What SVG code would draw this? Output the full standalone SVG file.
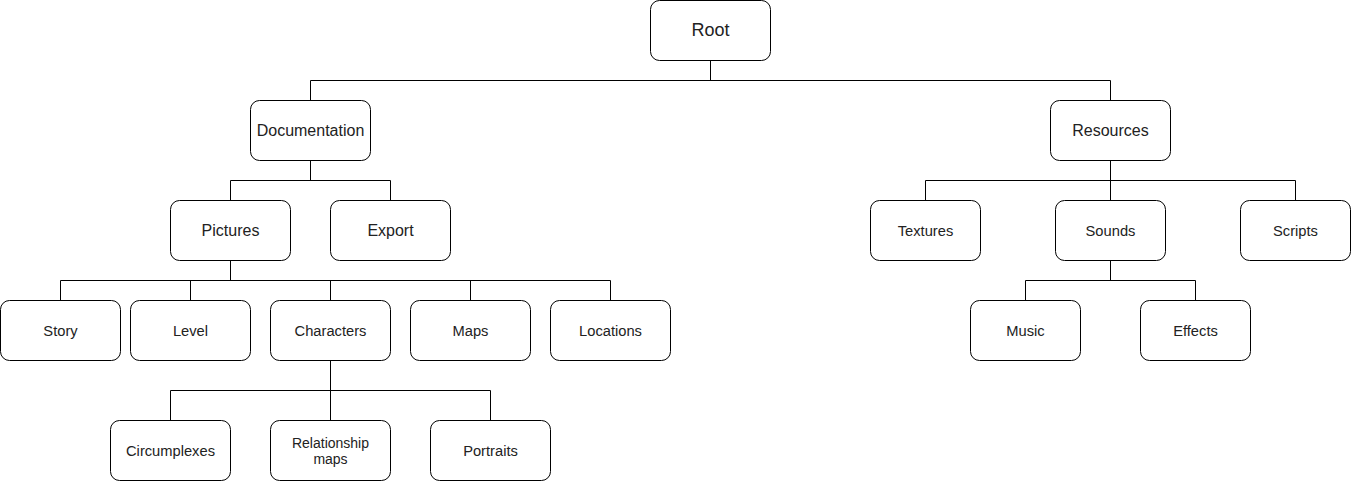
<svg xmlns="http://www.w3.org/2000/svg" width="1351" height="481" viewBox="0 0 1351 481">
<style>
.n rect{fill:#fff;stroke:#000;stroke-width:1}
.n text{font-family:"Liberation Sans",Arial,sans-serif;fill:#222;text-anchor:middle;dominant-baseline:central;font-size:14.7px}
.n .l16{font-size:16px}
.n .l18{font-size:18px}
#connectors path{fill:none;stroke:#000;stroke-width:1}
</style>
<rect width="1351" height="481" fill="#fff"/>
<g id="connectors">
<path d="M710.5 60.5V80.5M310.5 100.5V80.5H1110.5V100.5"/>
<path d="M310.5 160.5V180.5M230.5 200.5V180.5H390.5V200.5"/>
<path d="M230.5 260.5V280.5M60.5 300.5V280.5H610.5V300.5M190.5 280.5V300.5M330.5 280.5V300.5M470.5 280.5V300.5"/>
<path d="M330.5 360.5V420.5M170.5 420.5V390.5H490.5V420.5"/>
<path d="M1110.5 160.5V200.5M925.5 200.5V180.5H1295.5V200.5"/>
<path d="M1110.5 260.5V280.5M1025.5 300.5V280.5H1195.5V300.5"/>
</g>
<g id="root" class="n"><rect x="650.5" y="0.5" width="120" height="60" rx="9"/><text class="l18" x="710.5" y="30">Root</text></g>
<g id="documentation" class="n"><rect x="250.5" y="100.5" width="120" height="60" rx="9"/><text class="l16" x="310.5" y="130.5">Documentation</text></g>
<g id="resources" class="n"><rect x="1050.5" y="100.5" width="120" height="60" rx="9"/><text class="l16" x="1110.5" y="130.5">Resources</text></g>
<g id="pictures" class="n"><rect x="170.5" y="200.5" width="120" height="60" rx="9"/><text class="l16" x="230.5" y="230.5">Pictures</text></g>
<g id="export" class="n"><rect x="330.5" y="200.5" width="120" height="60" rx="9"/><text class="l16" x="390.5" y="230.5">Export</text></g>
<g id="textures" class="n"><rect x="870.5" y="200.5" width="110" height="60" rx="9"/><text x="925.5" y="230.5">Textures</text></g>
<g id="sounds" class="n"><rect x="1055.5" y="200.5" width="110" height="60" rx="9"/><text x="1110.5" y="230.5">Sounds</text></g>
<g id="scripts" class="n"><rect x="1240.5" y="200.5" width="110" height="60" rx="9"/><text x="1295.5" y="230.5">Scripts</text></g>
<g id="story" class="n"><rect x="0.5" y="300.5" width="120" height="60" rx="9"/><text x="60.5" y="330.5">Story</text></g>
<g id="level" class="n"><rect x="130.5" y="300.5" width="120" height="60" rx="9"/><text x="190.5" y="330.5">Level</text></g>
<g id="characters" class="n"><rect x="270.5" y="300.5" width="120" height="60" rx="9"/><text x="330.5" y="330.5">Characters</text></g>
<g id="maps" class="n"><rect x="410.5" y="300.5" width="120" height="60" rx="9"/><text x="470.5" y="330.5">Maps</text></g>
<g id="locations" class="n"><rect x="550.5" y="300.5" width="120" height="60" rx="9"/><text x="610.5" y="330.5">Locations</text></g>
<g id="music" class="n"><rect x="970.5" y="300.5" width="110" height="60" rx="9"/><text x="1025.5" y="330.5">Music</text></g>
<g id="effects" class="n"><rect x="1140.5" y="300.5" width="110" height="60" rx="9"/><text x="1195.5" y="330.5">Effects</text></g>
<g id="circumplexes" class="n"><rect x="110.5" y="420.5" width="120" height="60" rx="9"/><text x="170.5" y="450.5">Circumplexes</text></g>
<g id="relationship-maps" class="n"><rect x="270.5" y="420.5" width="120" height="60" rx="9"/><text x="330.5" y="442.5" style="font-size:14px">Relationship</text><text x="330.5" y="459" style="font-size:14px">maps</text></g>
<g id="portraits" class="n"><rect x="430.5" y="420.5" width="120" height="60" rx="9"/><text x="490.5" y="450.5">Portraits</text></g>
</svg>
